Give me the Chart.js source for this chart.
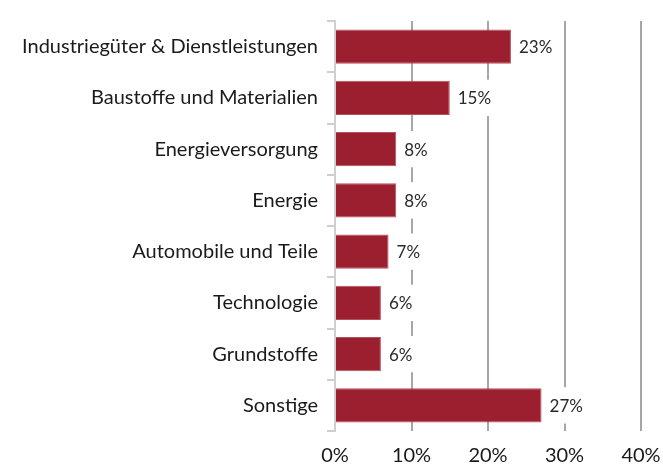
<!DOCTYPE html>
<html>
<head>
<meta charset="utf-8">
<script src="https://cdn.jsdelivr.net/npm/chart.js@4"></script>
<style>
  html, body { margin: 0; padding: 0; background: #fff; }
  #wrap { width: 663px; height: 469px; }
</style>
</head>
<body>
<div id="wrap"><canvas id="chart" width="663" height="469"></canvas></div>
<script>
// Sektorverteilung
const categories = [
    'Industriegüter & Dienstleistungen',
    'Baustoffe und Materialien',
    'Energieversorgung',
    'Energie',
    'Automobile und Teile',
    'Technologie',
    'Grundstoffe',
    'Sonstige'
];
const shares = [23, 15, 8, 8, 7, 6, 6, 27];
const tickValues = [0, 10, 20, 30, 40];

const FONT = 'Lato, "Open Sans", sans-serif';

// Wertbeschriftung mit weißem Hintergrund (unterbricht die Gitterlinien)
const valueLabels = {
    id: 'valueLabels',
    afterDatasetsDraw(chart) {
        const c = chart.ctx;
        const meta = chart.getDatasetMeta(0);
        c.save();
        c.font = '17px ' + FONT;
        c.textBaseline = 'middle';
        c.textAlign = 'left';
        meta.data.forEach((bar, i) => {
            const txt = shares[i] + '%';
            const w = c.measureText(txt).width;
            const x = bar.x + 8;
            const h = bar.height + 2;
            c.fillStyle = '#fff';
            c.fillRect(x - 3, bar.y - h / 2, w + 6, h);
            c.fillStyle = '#2a2a2a';
            c.fillText(txt, x, bar.y + 1);
        });
        c.restore();
    }
};

const ctx = document.getElementById('chart').getContext('2d');
const myChart = new Chart(ctx, {
    type: 'bar',
    data: {
        labels: categories,
        datasets: [{
            data: shares,
            backgroundColor: '#9b1f2f',
            borderColor: '#b5505c',
            borderWidth: 1,
            borderSkipped: 'start',
            categoryPercentage: 1,
            barPercentage: 0.67
        }]
    },
    options: {
        indexAxis: 'y',
        responsive: false,
        animation: false,
        layout: { padding: { top: 13, right: 22, left: 0, bottom: 0 } },
        plugins: {
            legend: { display: false },
            tooltip: { enabled: false }
        },
        scales: {
            x: {
                min: 0,
                max: 40,
                afterBuildTicks: s => { s.ticks = tickValues.map(v => ({ value: v })); },
                afterFit: s => { s.height = 38; s.paddingRight = 0; s.paddingLeft = 0; },
                grid: {
                    color: ctx => ctx.index === 0 ? 'rgba(0,0,0,0)' : '#a6a6a6',
                    lineWidth: 2,
                    drawTicks: false
                },
                border: { display: false },
                ticks: {
                    padding: 13,
                    color: '#1a1a1a',
                    font: { family: FONT, size: 20 },
                    callback: v => v + '%'
                }
            },
            y: {
                afterFit: s => { s.width = 335; },
                grid: {
                    offset: true,
                    drawOnChartArea: false,
                    tickLength: 8,
                    color: '#cfcfcf',
                    lineWidth: 2
                },
                border: { display: true, color: '#cfcfcf', width: 2 },
                ticks: {
                    padding: 9,
                    color: '#1a1a1a',
                    font: { family: FONT, size: 20 }
                }
            }
        }
    },
    plugins: [valueLabels]
});
</script>
</body>
</html>
